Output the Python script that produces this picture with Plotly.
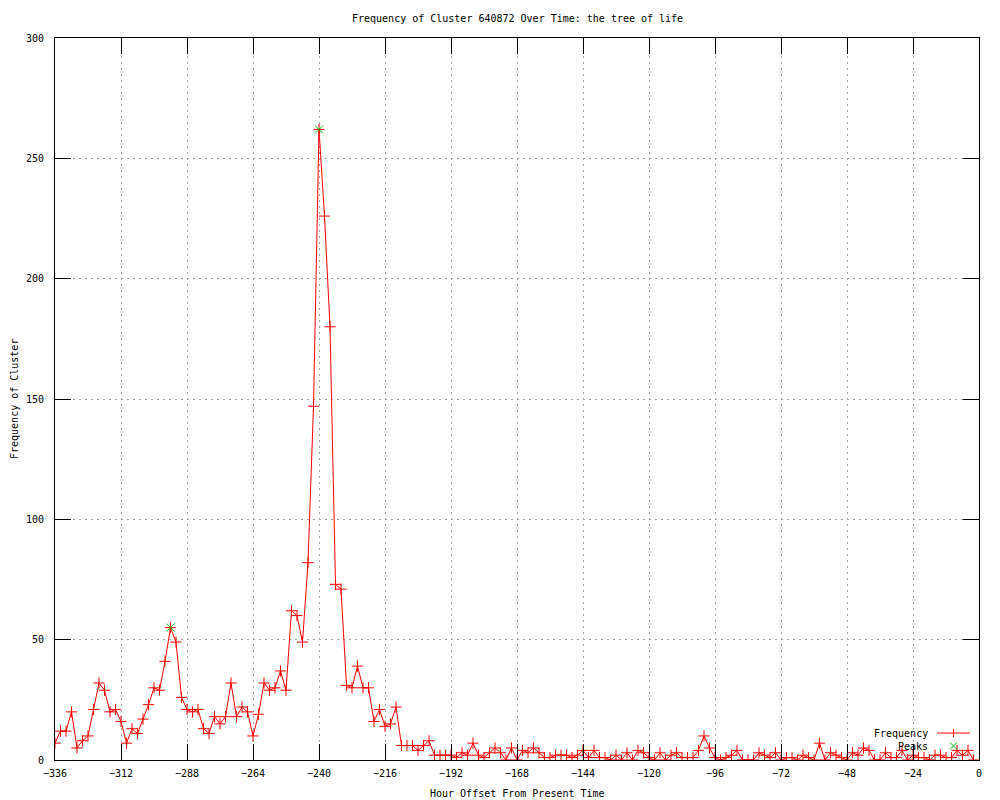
import plotly.graph_objects as go

# Hour offsets (every 2 hours) and cluster frequency
hours = list(range(-336, 0, 2))
frequency = [
    7, 12, 12, 20, 5, 8, 10, 21, 32, 29, 20, 21,
    16, 7, 13, 11, 17, 23, 30, 29, 41, 55, 49, 26,
    21, 20, 21, 13, 11, 18, 15, 18, 32, 18, 22, 20,
    10, 19, 32, 29, 30, 37, 29, 62, 60, 49, 82, 147,
    262, 226, 180, 73, 71, 31, 30, 39, 30, 30, 16, 21,
    14, 15, 22, 6, 6, 6, 4, 6, 8, 2, 2, 2,
    2, 1, 3, 2, 7, 2, 1, 3, 5, 3, 0, 5,
    0, 4, 3, 5, 3, 1, 1, 2, 2, 2, 1, 2,
    4, 1, 4, 1, 1, 0, 2, 0, 3, 0, 4, 3,
    1, 0, 3, 0, 2, 3, 1, 1, 1, 4, 10, 5,
    1, 0, 1, 2, 4, 0, 0, 0, 3, 2, 1, 3,
    0, 1, 1, 0, 2, 1, 0, 7, 0, 3, 2, 1,
    0, 3, 2, 5, 4, 0, 0, 3, 1, 1, 4, 0,
    2, 1, 1, 0, 2, 2, 1, 1, 4, 2, 4, 0,
]
assert len(hours) == len(frequency)

peak_hours = [-294, -240]
peak_values = [55, 262]

x_ticks = [-336, -312, -288, -264, -240, -216, -192, -168, -144, -120, -96, -72, -48, -24, 0]
y_ticks = [0, 50, 100, 150, 200, 250, 300]

FONT = "DejaVu Sans Mono"
RED = "#ff0000"
GREEN = "#00c000"

fig = go.Figure()
fig.add_trace(go.Scatter(
    x=hours, y=frequency, mode="lines+markers", name="Frequency",
    line=dict(color=RED, width=1),
    marker=dict(symbol="cross-thin", size=8, line=dict(color=RED, width=1)),
))
fig.add_trace(go.Scatter(
    x=peak_hours, y=peak_values, mode="markers", name="Peaks",
    marker=dict(symbol="x-thin", size=8, line=dict(color=GREEN, width=1)),
))

axis_common = dict(
    showline=True, linecolor="black", linewidth=1, mirror="ticks",
    ticks="inside", ticklen=16, tickcolor="black", tickwidth=1,
    showgrid=True, gridcolor="#a0a0a0", gridwidth=1, griddash="2px,4px",
    zeroline=False, tickfont=dict(family=FONT, size=10, color="black"),
)

# page body has an 8px margin; plot area should land at 55..979 x 38..760
fig.update_layout(
    width=1000, height=800,
    margin=dict(l=47, r=29, t=30, b=48),
    paper_bgcolor="white", plot_bgcolor="white",
    showlegend=False,
    font=dict(family=FONT, size=10, color="black"),
    xaxis=dict(range=[-336, 0], tickvals=x_ticks, ticklabelstandoff=4, **axis_common),
    yaxis=dict(range=[0, 300], tickvals=y_ticks, ticklabelstandoff=8, **axis_common),
)

annotations = [
    dict(text="Frequency of Cluster 640872 Over Time: the tree of life",
         xref="paper", yref="paper", x=0.5, y=1, yshift=20,
         xanchor="center", yanchor="middle", showarrow=False,
         font=dict(family=FONT, size=10)),
    dict(text="Hour Offset From Present Time",
         xref="paper", yref="paper", x=0.5, y=0, yshift=-33,
         xanchor="center", yanchor="middle", showarrow=False,
         font=dict(family=FONT, size=10)),
    dict(text="Frequency of Cluster", textangle=-90,
         xref="paper", yref="paper", x=0, y=0.5, xshift=-41,
         xanchor="center", yanchor="middle", showarrow=False,
         font=dict(family=FONT, size=10)),
    # legend texts
    dict(text="Frequency", xref="paper", yref="paper",
         x=(930 - 55) / 924, y=(760 - 733) / 722,
         xanchor="right", yanchor="middle", showarrow=False,
         font=dict(family=FONT, size=10)),
    dict(text="Peaks", xref="paper", yref="paper",
         x=(930 - 55) / 924, y=(760 - 746) / 722,
         xanchor="right", yanchor="middle", showarrow=False,
         font=dict(family=FONT, size=10)),
]
fig.update_layout(annotations=annotations)

# legend key samples (decoration, in paper coordinates)
def px(xp):
    return (xp - 55) / 924

def py(yp):
    return (760 - yp) / 722

shapes = [
    dict(type="line", xref="paper", yref="paper", x0=px(937), x1=px(970),
         y0=py(733), y1=py(733), line=dict(color=RED, width=1)),
    dict(type="line", xref="paper", yref="paper", x0=px(953.5), x1=px(953.5),
         y0=py(729), y1=py(737), line=dict(color=RED, width=1)),
    dict(type="line", xref="paper", yref="paper", x0=px(950), x1=px(957),
         y0=py(742.5), y1=py(749.5), line=dict(color=GREEN, width=1)),
    dict(type="line", xref="paper", yref="paper", x0=px(950), x1=px(957),
         y0=py(749.5), y1=py(742.5), line=dict(color=GREEN, width=1)),
]
fig.update_layout(shapes=shapes)

fig.write_html("out.html")
